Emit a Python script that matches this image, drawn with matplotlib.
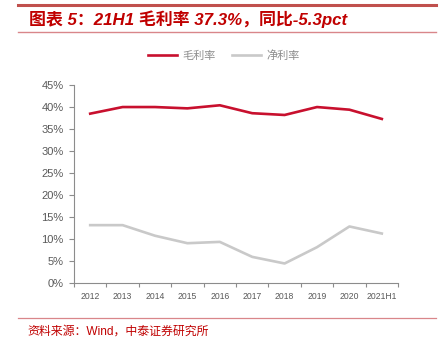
import matplotlib
matplotlib.use('Agg')
import matplotlib.pyplot as plt
from matplotlib.lines import Line2D
import numpy as np

plt.rcParams['font.family'] = ['Liberation Sans', 'Noto Sans CJK SC', 'DejaVu Sans']

years = ['2012', '2013', '2014', '2015', '2016', '2017', '2018', '2019', '2020', '2021H1']
gross_margin = [38.5, 40.0, 40.0, 39.7, 40.4, 38.6, 38.2, 40.0, 39.4, 37.3]
net_margin = [13.2, 13.2, 10.8, 9.1, 9.4, 6.0, 4.5, 8.2, 12.9, 11.3]
series_names = ['毛利率', '净利率']
title = '图表 5：21H1 毛利率 37.3%，同比-5.3pct'
source = '资料来源：Wind，中泰证券研究所'

RED = '#C8102E'
GREY = '#C9C9C9'
AXIS = '#8C8C8C'
TXT = '#595959'

fig = plt.figure(figsize=(4.42, 3.45), dpi=100)
ax = fig.add_axes([0.1674, 0.1788, 0.7331, 0.5748])

x = np.arange(len(years))
ax.plot(x, np.array(gross_margin) / 100, color=RED, lw=1.9, solid_joinstyle='round')
ax.plot(x, np.array(net_margin) / 100, color=GREY, lw=1.9, solid_joinstyle='round')

ax.set_xlim(-0.5, len(years) - 0.5)
ax.set_ylim(0, 0.45)
ax.set_yticks(np.arange(0, 0.451, 0.05))
ax.set_yticklabels([f'{int(round(v * 100))}%' for v in np.arange(0, 0.451, 0.05)],
                   fontsize=8, color=TXT)
ax.set_xticks(x)
ax.set_xticklabels(years, fontsize=6.2, color=TXT)
ax.set_xticks(np.arange(-0.5, len(years)), minor=True)
ax.tick_params(axis='x', which='major', length=0, pad=6)
ax.tick_params(axis='x', which='minor', length=3, color=AXIS, width=0.8)
ax.tick_params(axis='y', length=3.5, color=AXIS, width=0.8, pad=4)
for s in ['top', 'right']:
    ax.spines[s].set_visible(False)
for s in ['left', 'bottom']:
    ax.spines[s].set_color(AXIS)
    ax.spines[s].set_linewidth(0.8)

handles = [Line2D([], [], color=RED, lw=1.9), Line2D([], [], color=GREY, lw=1.9)]
fig.legend(handles, series_names, loc='center', bbox_to_anchor=(0.507, 0.84), ncol=2,
           frameon=False, fontsize=8, labelcolor='#8C8C8C', handlelength=2.6,
           handletextpad=0.5, columnspacing=1.5)

# header / footer rules
fig.add_artist(Line2D([0.041, 0.987], [0.985, 0.985], color='#C0504D', lw=2.2))
fig.add_artist(Line2D([0.041, 0.987], [0.907, 0.907], color='#D9868A', lw=1.0))
fig.add_artist(Line2D([0.041, 0.987], [0.078, 0.078], color='#D9868A', lw=0.9))

fig.text(0.066, 0.944, title, fontsize=12.2, fontweight='bold', style='italic',
         color='#C00000', va='center', ha='left')
fig.text(0.063, 0.039, source, fontsize=8.6, color='#C00000', va='center', ha='left')

fig.savefig('out.png', dpi=100)
